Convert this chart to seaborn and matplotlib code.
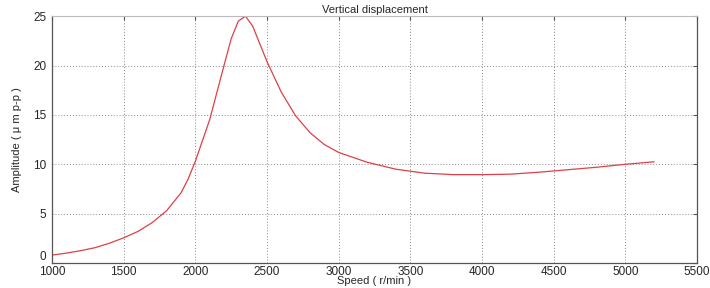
import matplotlib
matplotlib.use("Agg")
from matplotlib import pyplot as plt
import seaborn as sns
import pandas as pd

# speed (r/min) and vertical amplitude (um p-p)
speed = [1000, 1100, 1200, 1300, 1400, 1500, 1600, 1700, 1800, 1900, 1950, 2000,
         2100, 2200, 2250, 2300, 2350, 2400, 2500, 2600, 2700, 2800, 2900,
         3000, 3200, 3400, 3600, 3800, 4000, 4200, 4400, 4600, 4800, 5000, 5200]
amplitude = [0.8, 1.0, 1.25, 1.55, 2.0, 2.55, 3.2, 4.1, 5.3, 7.1, 8.5, 10.3,
             14.5, 20.0, 22.7, 24.5, 25.0, 24.0, 20.4, 17.3, 14.9, 13.2, 12.0,
             11.2, 10.2, 9.5, 9.1, 8.95, 8.95, 9.0, 9.2, 9.45, 9.7, 10.0, 10.25]
x_ticks = [1000, 1500, 2000, 2500, 3000, 3500, 4000, 4500, 5000, 5500]
y_ticks = [0, 5, 10, 15, 20, 25]

df = pd.DataFrame({"speed": speed, "amplitude": amplitude})

sns.set_style("white")
plt.rcParams['font.family'] = ['Liberation Sans', 'DejaVu Sans']

fig = plt.figure(figsize=(7.1, 2.88), dpi=100)
ax = fig.add_axes([0.0732, 0.0868, 0.9085, 0.857])

sns.lineplot(data=df, x="speed", y="amplitude", color="#dd4048", linewidth=0.9, ax=ax)

ax.set_xlim(1000, 5500)
ax.set_ylim(0, 25)
ax.set_xticks(x_ticks)
ax.set_yticks(y_ticks)
ax.grid(True, linestyle=(0, (1, 2)), color="#888888", linewidth=0.7)
ax.tick_params(direction="in", length=3, labelsize=8.5, top=True, right=True,
               color="#555555")
ax.tick_params(axis="x", pad=2)
ax.tick_params(axis="y", pad=4)
# the "0" sits on the axis line, above the "1000"
ax.get_yticklabels()[0].set_verticalalignment("bottom")
for side in ["left", "bottom", "right"]:
    ax.spines[side].set_color("#555555")
    ax.spines[side].set_linewidth(0.9)
ax.spines["top"].set_color("#bbbbbb")

ax.set_title("Vertical displacement", fontsize=8, pad=2)
ax.set_xlabel("Speed ( r/min )", fontsize=8, labelpad=-1)
ax.set_ylabel("Amplitude ( \u03bc m p-p )", fontsize=8, labelpad=8, fontstretch="condensed")

fig.savefig("out.png", dpi=100)
